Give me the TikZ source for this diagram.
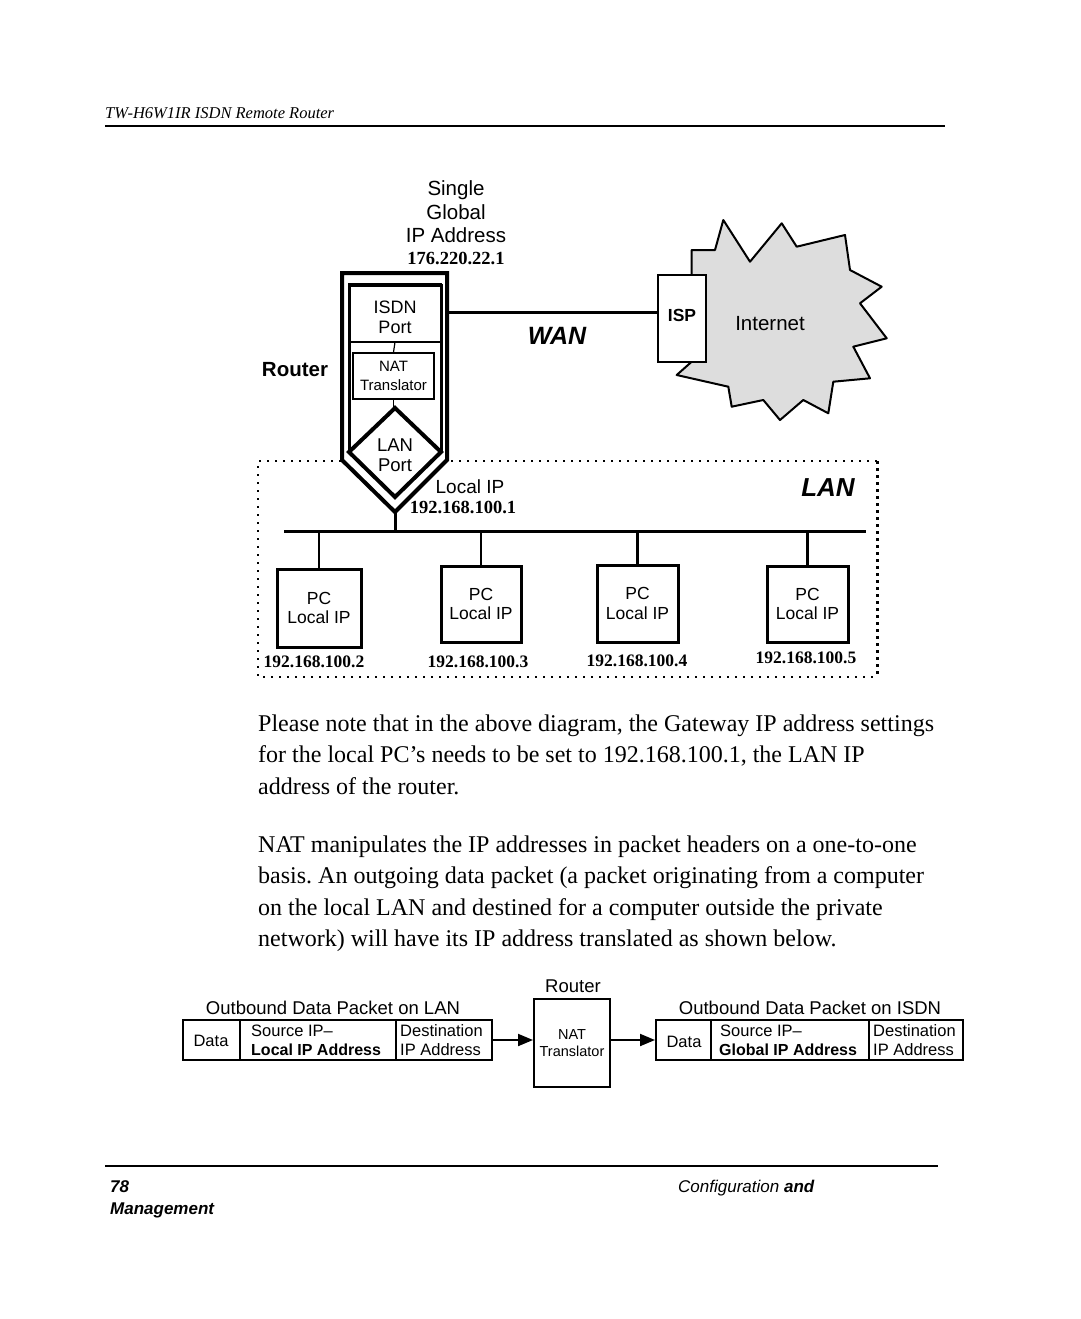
\documentclass[tikz,border=0pt]{standalone}
\usepackage{fontspec}
\setmainfont{Liberation Serif}
\newfontfamily\arial{Liberation Sans}
\usetikzlibrary{arrows.meta}
\definecolor{cloudgray}{RGB}{221,221,221}
\frenchspacing
\begin{document}
\begin{tikzpicture}[x=1pt,y=-1pt,
  sans/.style={inner sep=0pt, anchor=base, font=\arial\fontsize{#1}{#1}\selectfont},
  sansw/.style={inner sep=0pt, anchor=base west, font=\arial\fontsize{#1}{#1}\selectfont},
  sansb/.style={inner sep=0pt, anchor=base, font=\arial\bfseries\fontsize{#1}{#1}\selectfont},
  sansbi/.style={inner sep=0pt, anchor=base, font=\arial\bfseries\itshape\fontsize{#1}{#1}\selectfont},
  ipnum/.style={inner sep=0pt, anchor=base, font=\bfseries\fontsize{17.5}{17.5}\selectfont},
  para/.style={inner sep=0pt, anchor=base west, font=\fontsize{24}{24}\selectfont},
  pcbox/.style={draw, line width=3pt, fill=white, inner sep=0pt, align=center,
    minimum width=81, minimum height=77, font=\arial\fontsize{17.5}{19.5}\selectfont},
  pkt/.style={draw, line width=2pt, inner sep=0pt, minimum height=40},
  pktw/.style={inner sep=0pt, anchor=base west, font=\arial\fontsize{16.5}{16.5}\selectfont},
  pktbw/.style={inner sep=0pt, anchor=base west, font=\arial\bfseries\fontsize{16}{16}\selectfont},
  arr/.style={line width=2pt, -{Triangle[length=15pt,width=12pt]}},
  lanborder/.style={line width=1.6pt, dash pattern=on 2pt off 6pt},
  conn/.style={line width=3pt}
]
\useasboundingbox (0,0) rectangle (1080,1319);
\fill[white] (0,0) rectangle (1080,1319);

% header
\node[inner sep=0pt, anchor=base west, font=\itshape\fontsize{16.5}{16.5}\selectfont] (hdr) at (105,118) {TW-H6W1IR ISDN Remote Router};
\coordinate (hl) at (105,126); \coordinate (hr) at (945,126);
\draw[line width=2pt] (hl) -- (hr);

% global address labels
\node[sans=20.5] (single) at (456,195.5) {Single};
\node[sans=20.5] (global) at (456,219) {Global};
\node[sans=20.5] (ipaddr) at (456,242.5) {IP Address};
\node[inner sep=0pt, anchor=base, font=\bfseries\fontsize{18.5}{18.5}\selectfont] (gip) at (456,264.5) {176.220.22.1};

% LAN dotted border
\draw[lanborder] (877,461) -- (258,461) -- (258,677) -- (877,677);
\draw[line width=3pt, dash pattern=on 3pt off 4pt] (877,461) -- (877,677);
\node[sansbi=26] (lanlbl) at (828,496) {LAN};

% internet cloud
\draw[fill=cloudgray, line width=2pt, line join=round]
  (691.7,250) -- (715,250) -- (723.3,220) -- (750,261.7) -- (781.7,223.3) -- (796.7,246.7)
  -- (845,235) -- (850,270) -- (881.7,286.7) -- (860,303.3) -- (886.7,338.3) -- (853.3,346.7)
  -- (870,378.3) -- (833.3,381.7) -- (828.3,413.3) -- (803.3,400) -- (780,420) -- (763.3,400)
  -- (731.7,406.7) -- (728.3,386.7) -- (676.7,375) -- (691.7,361.7) -- (691.7,300) -- cycle;
\node[sans=20.5] (inet) at (770,330) {Internet};

% ISP box
\node[draw, line width=2pt, fill=white, minimum width=48, minimum height=87, inner sep=0pt] (isp) at (682,318.5) {};
\node[sansb=17.5] (isplbl) at (682,321) {ISP};

% router frame
\draw[line width=4pt, fill=white, line join=miter] (342,273) -- (447,273) -- (447,460) -- (395,512) -- (342,460) -- cycle;
\draw[line width=3pt] (349,452) -- (349,285) -- (441,285) -- (441,452);
\draw[line width=4.5pt] (348,285) -- (442,285);
\draw[line width=2.5pt] (349,342) -- (441,342);
\draw[line width=4pt, line join=miter] (395,408) -- (441,452) -- (395,497) -- (349,452) -- cycle;
\coordinate (isdnb) at (395,342);
\coordinate (dtop) at (395,408);
\node[sans=18] (isdn1) at (395,313) {ISDN};
\node[sans=18] (isdn2) at (395,333.5) {Port};
\node[draw, line width=1.2pt, minimum width=81, minimum height=46, inner sep=0pt, align=center,
  font=\arial\fontsize{15}{18.5}\selectfont] (nat) at (393.5,376) {NAT\\Translator};
\draw[line width=1.2pt] (isdnb) -- (nat.north);
\draw[line width=1.2pt] (nat.south) -- (nat.south |- dtop);
\node[sans=18.5] (lan1) at (395,451) {LAN};
\node[sans=18.5] (lan2) at (395,471) {Port};
\node[sansb=20.5] (rtr) at (295,376.5) {Router};

% WAN link
\coordinate (wanstart) at (447,312);
\draw[conn] (wanstart) -- (wanstart -| isp.west);
\node[sansbi=25] (wan) at (557,344) {WAN};

% local IP
\node[sans=19] (lip) at (470,493) {Local IP};
\node[ipnum, font=\bfseries\fontsize{18.5}{18.5}\selectfont] (rip) at (463,513) {192.168.100.1};

% bus
\coordinate (rb) at (395,512);
\coordinate (busL) at (284,531);
\coordinate (busR) at (866,531);
\draw[conn] (busL) -- (busR);
\draw[conn] (rb) -- (rb |- busL);

% PCs
\node[pcbox, minimum width=84, minimum height=78] (pc1) at (319,608) {PC\\Local IP};
\node[pcbox, minimum width=80, minimum height=76] (pc2) at (481,604) {PC\\Local IP};
\node[pcbox] (pc3) at (637.5,603.5) {PC\\Local IP};
\node[pcbox, minimum height=76] (pc4) at (807.5,604) {PC\\Local IP};
\foreach \p in {pc1,pc2,pc3,pc4} { \draw[line width=2.5pt] (\p.north) -- (\p.north |- busL); }
\node[ipnum] (ip2) at (314,667.5) {192.168.100.2};
\node[ipnum] (ip3) at (478,667) {192.168.100.3};
\node[ipnum] (ip4) at (637,666) {192.168.100.4};
\node[ipnum] (ip5) at (806,663.5) {192.168.100.5};

% paragraphs
\node[para] (p1) at (258,731) {Please note that in the above diagram, the Gateway IP address settings};
\node[para] (p2) at (258,762.5) {for the local PC’s needs to be set to 192.168.100.1, the LAN IP};
\node[para] (p3) at (258,794) {address of the router.};
\node[para] (p4) at (258,852) {NAT manipulates the IP addresses in packet headers on a one-to-one};
\node[para] (p5) at (258,883.5) {basis. An outgoing data packet (a packet originating from a computer};
\node[para] (p6) at (258,915) {on the local LAN and destined for a computer outside the private};
\node[para] (p7) at (258,946.5) {network) will have its IP address translated as shown below.};

% bottom packet diagram
\node[sans=18.5] (rtr2) at (573,992) {Router};
\node[sans=18.5] (olan) at (333,1014.5) {Outbound Data Packet on LAN};
\node[sans=18.5] (oisdn) at (810,1014.5) {Outbound Data Packet on ISDN};

\node[pkt, minimum width=309] (lanpkt) at (337.5,1040) {};
\draw[line width=2pt] (240,1020) -- (240,1060);
\draw[line width=2pt] (396,1020) -- (396,1060);
\node[sans=16.5] (d1) at (211,1046.5) {Data};
\node[pktw] (s1) at (251,1036.5) {Source IP–};
\node[pktbw] (s2) at (251,1055.5) {Local IP Address};
\node[pktw] (t1) at (400,1036.5) {Destination};
\node[pktw] (t2) at (400,1055.5) {IP Address};

\node[draw, line width=2pt, minimum width=76, minimum height=88, inner sep=0pt, align=center,
  font=\arial\fontsize{14.5}{17}\selectfont] (nat2) at (572,1043) {NAT\\Translator};

\node[pkt, minimum width=307] (isdnpkt) at (809.5,1040) {};
\draw[line width=2pt] (711,1020) -- (711,1060);
\draw[line width=2pt] (869,1020) -- (869,1060);
\node[sans=16.5] (d2) at (684,1047) {Data};
\node[pktw] (s3) at (720,1036.5) {Source IP–};
\node[pktbw] (s4) at (719,1055.5) {Global IP Address};
\node[pktw] (t3) at (873,1036.5) {Destination};
\node[pktw] (t4) at (873,1055.5) {IP Address};

\draw[arr] (lanpkt.east) -- (lanpkt.east -| nat2.west);
\draw[arr] (nat2.east |- isdnpkt.west) -- (isdnpkt.west);

% footer
\coordinate (fl) at (105,1166); \coordinate (fr) at (938,1166);
\draw[line width=2pt] (fl) -- (fr);
\node[inner sep=0pt, anchor=base west, font=\arial\bfseries\itshape\fontsize{17}{17}\selectfont] (pg) at (110,1192) {78};
\node[inner sep=0pt, anchor=base west, font=\arial\itshape\fontsize{17}{17}\selectfont] (cfg) at (678,1192) {Configuration \textbf{and}};
\node[inner sep=0pt, anchor=base west, font=\arial\bfseries\itshape\fontsize{17}{17}\selectfont] (mgmt) at (110,1214) {Management};
\end{tikzpicture}
\end{document}
